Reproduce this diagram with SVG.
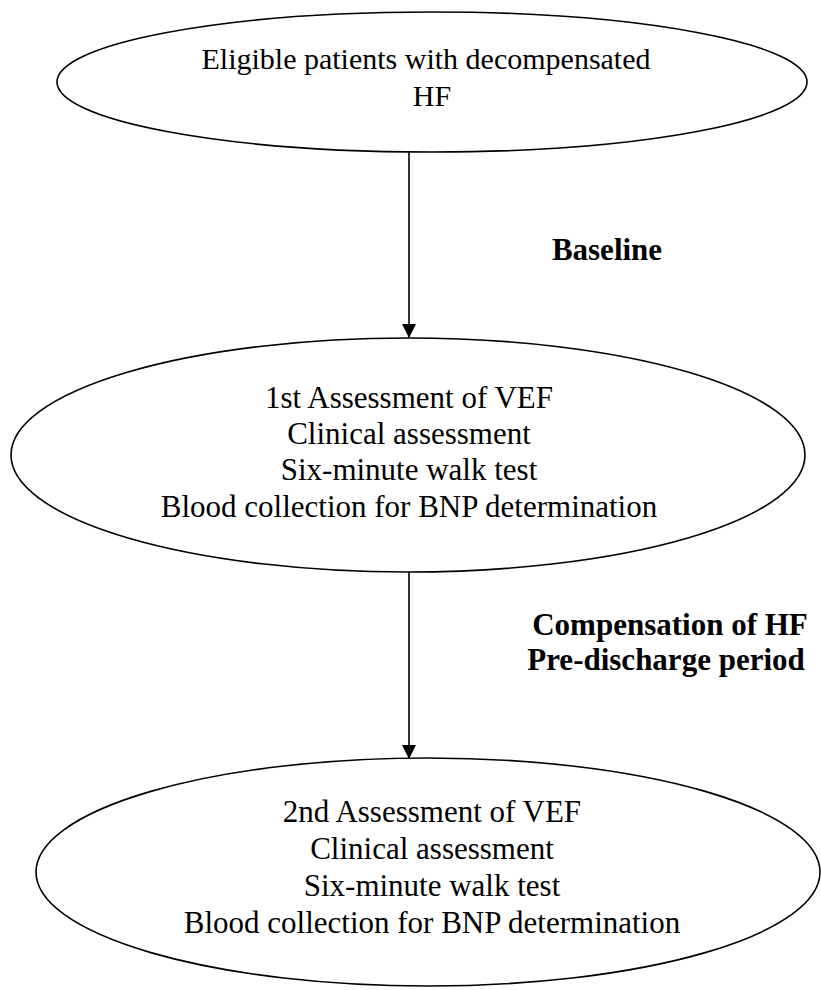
<svg xmlns="http://www.w3.org/2000/svg" width="821" height="990" viewBox="0 0 821 990">
<style>
  .node { fill: #ffffff; stroke: #000000; stroke-width: 1.6; }
  .t { font-family: "Liberation Serif", "Times New Roman", serif; font-size: 31px; fill: #000000; text-anchor: middle; }
  .lbl { font-family: "Liberation Serif", "Times New Roman", serif; font-size: 31px; font-weight: bold; fill: #000000; text-anchor: middle; }
  .conn { stroke: #000000; stroke-width: 1.6; fill: none; }
</style>
<defs>
  <marker id="arrow" markerWidth="14" markerHeight="15" refX="13" refY="7" orient="auto" markerUnits="userSpaceOnUse" viewBox="0 0 14 14">
    <path d="M0,0 L14,7 L0,14 Z" fill="#000000"/>
  </marker>
</defs>
<rect width="821" height="990" fill="#ffffff"/>
<g id="connectors">
  <line class="conn" x1="409" y1="152" x2="409" y2="337" marker-end="url(#arrow)"/>
  <line class="conn" x1="409" y1="572" x2="409" y2="758" marker-end="url(#arrow)"/>
  <text class="lbl" x="607" y="260">Baseline</text>
  <text class="lbl" x="670" y="635">Compensation of HF</text>
  <text class="lbl" x="666" y="670">Pre-discharge period</text>
</g>
<g id="node-eligible">
  <ellipse class="node" cx="432" cy="82" rx="375" ry="70"/>
  <text class="t" style="font-size:30px" x="426" y="69">Eligible patients with decompensated</text>
  <text class="t" style="font-size:30px" x="432" y="106">HF</text>
</g>
<g id="node-assessment1">
  <ellipse class="node" cx="408" cy="455" rx="397" ry="117"/>
  <text class="t" x="409" y="408">1st Assessment of VEF</text>
  <text class="t" x="409" y="444">Clinical assessment</text>
  <text class="t" x="409" y="480">Six-minute walk test</text>
  <text class="t" x="409" y="517">Blood collection for BNP determination</text>
</g>
<g id="node-assessment2">
  <ellipse class="node" cx="428" cy="872" rx="392" ry="114"/>
  <text class="t" x="432" y="822">2nd Assessment of VEF</text>
  <text class="t" x="432" y="859">Clinical assessment</text>
  <text class="t" x="432" y="896">Six-minute walk test</text>
  <text class="t" x="432" y="933">Blood collection for BNP determination</text>
</g>
</svg>
